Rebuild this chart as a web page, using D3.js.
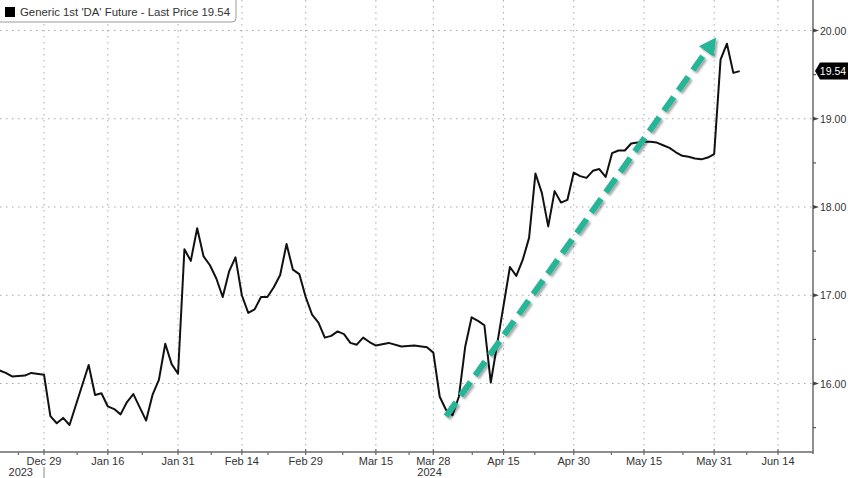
<!DOCTYPE html>
<html>
<head>
<meta charset="utf-8">
<script src="https://cdn.jsdelivr.net/npm/d3@7"></script>
<style>
  html, body { margin: 0; padding: 0; background: #fff; }
  svg { display: block; }
</style>
</head>
<body>
<div id="chart"></div>
<script>
// ---- Data (trading-day index, counted from Dec 29 2023 = 0) ----
const days = [-7,-6,-5,-3,-2,0,1,2,3,4,7,8,9,10,11,12,13,14,16,17,18,19,20,21,22,23,24,25,26,27,28,29,30,31,32,33,34,35,36,37,38,39,40,41,42,43,44,45,46,47,48,49,50,51,52,54,56,58,60,61,62,63,64,65,66,67,68,69,70,73,74,75,76,77,78,79,80,81,82,83,84,85,86,87,88,89,90,91,92,93,94,95,96,97,98,99,100,101,102,103,104,105,106,107,108,109];
const prices = [16.15,16.12,16.08,16.09,16.12,16.10,15.63,15.55,15.61,15.53,16.21,15.87,15.89,15.74,15.71,15.65,15.79,15.88,15.58,15.87,16.04,16.45,16.22,16.11,17.52,17.39,17.76,17.44,17.34,17.19,16.98,17.27,17.43,17.00,16.80,16.84,16.98,16.98,17.09,17.23,17.58,17.29,17.24,16.98,16.78,16.69,16.52,16.54,16.59,16.56,16.46,16.44,16.52,16.47,16.43,16.46,16.42,16.43,16.41,16.35,15.85,15.70,15.64,15.85,16.42,16.75,16.71,16.66,16.01,17.32,17.22,17.40,17.65,18.38,18.16,17.78,18.18,18.05,18.08,18.39,18.35,18.33,18.41,18.43,18.34,18.61,18.64,18.64,18.72,18.73,18.74,18.74,18.73,18.70,18.67,18.62,18.58,18.57,18.55,18.54,18.56,18.60,19.67,19.85,19.52,19.54];

const tickDays   = [0,10,21,31,41,52,61,72,83,94,105,115];
const tickLabels = ["Dec 29","Jan 16","Jan 31","Feb 14","Feb 29","Mar 15","Mar 28","Apr 15","Apr 30","May 15","May 31","Jun 14"];
const minorTickDays = [-4,5.2,15.4,26.2,35.1,46.8,57.2,67.1,76.9,88.9,100.1,110.1];
const yearLabels = [{day: 0, text: "2023", side: "left"}, {day: 61, text: "2024", side: "right"}];

const yTicks = [16,17,18,19,20];
const yMinorTicks = [15.5,16.5,17.5,18.5,19.5];

const lastPrice = 19.54;
const legendText = "Generic 1st 'DA' Future - Last Price 19.54";

const arrowStart = {day: 63.0, price: 15.63};
const arrowEnd   = {day: 105.3, price: 19.92};

// ---- Layout ----
const W = 848, H = 478;
const plotLeft = 0, plotRight = 813, plotTop = 0, plotBottom = 452;

const x = d3.scaleLinear().domain([0, 115]).range([44, 778]);
const y = d3.scaleLinear().domain([16, 20]).range([383.5, 30.5]);

const svg = d3.select("#chart").append("svg")
  .attr("width", W).attr("height", H)
  .style("font-family", "'Liberation Sans', Arial, sans-serif");

const defs = svg.append("defs");
defs.append("clipPath").attr("id", "plotclip")
  .append("rect").attr("x", plotLeft).attr("y", plotTop)
  .attr("width", plotRight - plotLeft).attr("height", plotBottom - plotTop);

const shadow = defs.append("filter").attr("id", "shadow")
  .attr("x", "-20%").attr("y", "-20%").attr("width", "140%").attr("height", "140%");
shadow.append("feDropShadow").attr("dx", 2).attr("dy", 2).attr("stdDeviation", 1.2)
  .attr("flood-color", "#000").attr("flood-opacity", 0.35);

// ---- Grid ----
const grid = svg.append("g");
grid.selectAll("line.hg").data(yTicks).join("line")
  .attr("x1", plotLeft).attr("x2", plotRight)
  .attr("y1", d => y(d)).attr("y2", d => y(d))
  .attr("stroke", "#a8a8a8").attr("stroke-width", 1).attr("stroke-dasharray", "1.5,4.5");
grid.selectAll("line.vg").data(tickDays).join("line")
  .attr("x1", d => x(d)).attr("x2", d => x(d))
  .attr("y1", plotTop).attr("y2", plotBottom)
  .attr("stroke", "#a8a8a8").attr("stroke-width", 1).attr("stroke-dasharray", "1.5,4.5");

// ---- Price line ----
const series = days.map((d, i) => ({day: d, price: prices[i]}));
svg.append("g").attr("clip-path", "url(#plotclip)")
  .append("path").datum(series)
  .attr("d", d3.line().x(d => x(d.day)).y(d => y(d.price)))
  .attr("fill", "none").attr("stroke", "#111").attr("stroke-width", 2)
  .attr("stroke-linejoin", "round");

// ---- Green dashed arrow ----
const ax0 = x(arrowStart.day), ay0 = y(arrowStart.price);
const ax1 = x(arrowEnd.day), ay1 = y(arrowEnd.price);
const ang = Math.atan2(ay1 - ay0, ax1 - ax0);
const headLen = 17, headHalf = 9;
const bx = ax1 - headLen * Math.cos(ang), by = ay1 - headLen * Math.sin(ang);
const arrowG = svg.append("g").attr("filter", "url(#shadow)");
const green = "#25b597";
arrowG.append("line")
  .attr("x1", ax0).attr("y1", ay0).attr("x2", bx + 2 * Math.cos(ang)).attr("y2", by + 2 * Math.sin(ang))
  .attr("stroke", green).attr("stroke-width", 6).attr("stroke-dasharray", "17,8");
arrowG.append("path")
  .attr("d", `M${ax1},${ay1} L${bx + headHalf * Math.sin(ang)},${by - headHalf * Math.cos(ang)} L${bx - headHalf * Math.sin(ang)},${by + headHalf * Math.cos(ang)} Z`)
  .attr("fill", green);

// ---- Axes frame ----
svg.append("line").attr("x1", plotLeft).attr("x2", plotRight)
  .attr("y1", plotBottom).attr("y2", plotBottom).attr("stroke", "#6a6a6a").attr("stroke-width", 1.5);
svg.append("line").attr("x1", plotRight).attr("x2", plotRight)
  .attr("y1", plotTop).attr("y2", plotBottom + 2).attr("stroke", "#6a6a6a").attr("stroke-width", 1.5);

// X axis ticks & labels
const xa = svg.append("g");
xa.selectAll("line.maj").data(tickDays).join("line")
  .attr("x1", d => x(d)).attr("x2", d => x(d))
  .attr("y1", plotBottom - 3).attr("y2", plotBottom + 3)
  .attr("stroke", "#6a6a6a").attr("stroke-width", 1.2);
xa.selectAll("line.min").data(minorTickDays).join("line")
  .attr("x1", d => x(d)).attr("x2", d => x(d))
  .attr("y1", plotBottom).attr("y2", plotBottom + 3)
  .attr("stroke", "#6a6a6a").attr("stroke-width", 1.2);
xa.selectAll("text.tl").data(tickDays).join("text")
  .attr("x", d => x(d)).attr("y", 465)
  .attr("text-anchor", "middle").attr("font-size", 11).attr("fill", "#333")
  .text((d, i) => tickLabels[i]);
// Year labels
yearLabels.forEach(yl => {
  if (yl.side === "left") {
    xa.append("text").attr("x", x(yl.day) - 11).attr("y", 476)
      .attr("text-anchor", "end").attr("font-size", 11).attr("fill", "#333").text(yl.text);
    xa.append("line").attr("x1", x(yl.day)).attr("x2", x(yl.day))
      .attr("y1", 467).attr("y2", 478).attr("stroke", "#888").attr("stroke-width", 1);
  } else {
    xa.append("text").attr("x", x(yl.day) - 16).attr("y", 476)
      .attr("text-anchor", "start").attr("font-size", 11).attr("fill", "#333").text(yl.text);
  }
});

// Y axis (right)
const ya = svg.append("g");
ya.selectAll("path.maj").data(yTicks).join("path")
  .attr("d", d => `M${plotRight},${y(d) - 2} L${plotRight + 6},${y(d)} L${plotRight},${y(d) + 2} Z`)
  .attr("fill", "#444");
ya.selectAll("line.min").data(yMinorTicks).join("line")
  .attr("x1", plotRight).attr("x2", plotRight + 3)
  .attr("y1", d => y(d)).attr("y2", d => y(d))
  .attr("stroke", "#555").attr("stroke-width", 1.2);
ya.selectAll("text").data(yTicks).join("text")
  .attr("x", 820).attr("y", d => y(d) + 4)
  .attr("font-size", 10.5).attr("fill", "#333")
  .text(d => d.toFixed(2));

// Last price badge
const ly = y(lastPrice);
svg.append("path")
  .attr("d", `M815,${ly} L820,${ly - 8.5} H848 V${ly + 8.5} H820 Z`)
  .attr("fill", "#000");
svg.append("text").attr("x", 833).attr("y", ly + 4)
  .attr("text-anchor", "middle").attr("font-size", 10.5).attr("fill", "#fff")
  .text(lastPrice.toFixed(2));

// ---- Legend ----
const lg = svg.append("g");
lg.append("rect").attr("x", -6).attr("y", -6).attr("width", 242).attr("height", 28)
  .attr("rx", 4).attr("fill", "#fff").attr("stroke", "#9a9a9a").attr("stroke-width", 1);
lg.append("rect").attr("x", 5).attr("y", 7).attr("width", 10).attr("height", 10).attr("fill", "#000");
lg.append("text").attr("x", 20).attr("y", 16)
  .attr("font-size", 11).attr("fill", "#333")
  .attr("textLength", 210).attr("lengthAdjust", "spacingAndGlyphs")
  .text(legendText);
</script>
</body>
</html>
